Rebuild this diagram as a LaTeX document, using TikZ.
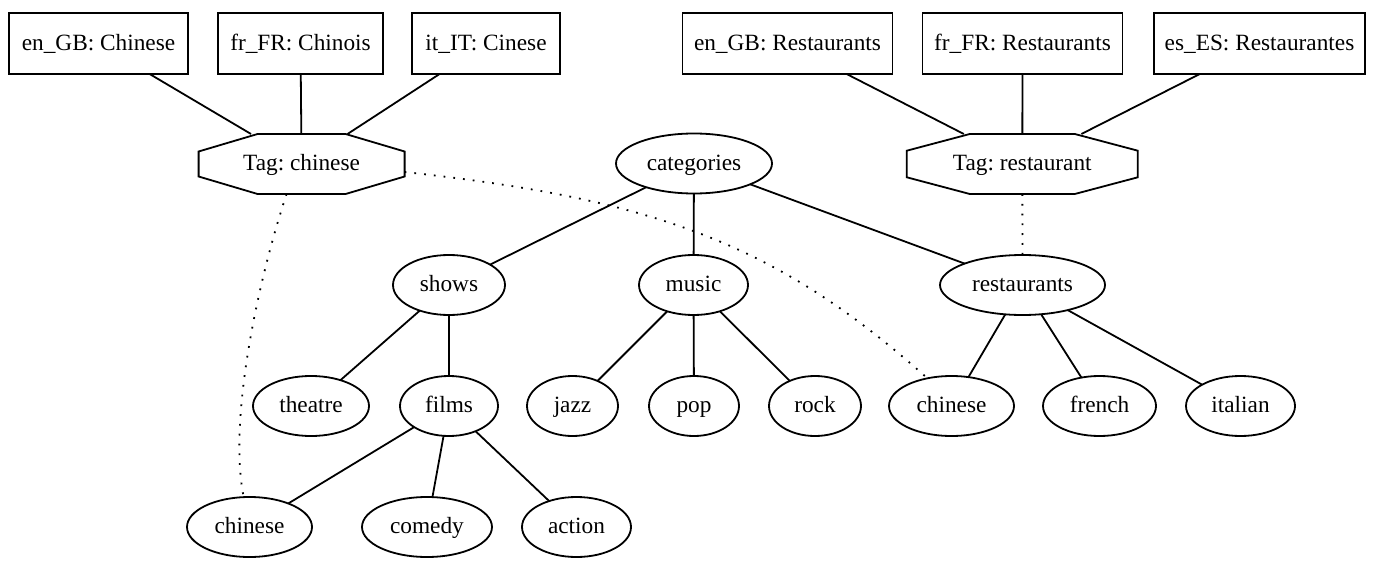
\documentclass[tikz,border=0pt]{standalone}
\usepackage{fontspec}
\setmainfont{Liberation Serif}
\usetikzlibrary{calc,shapes.geometric}
\frenchspacing
\begin{document}
\begin{tikzpicture}[x=1pt,y=-1pt,
  every node/.style={font=\fontsize{23.3}{28}\selectfont\frenchspacing, text height=17pt, text depth=3.6pt, inner sep=0pt, outer sep=0pt, line width=1.8pt},
  ell/.style={draw, ellipse, minimum height=60pt},
  lbox/.style={draw, rectangle, minimum height=60.7pt},
  tagnode/.style={rectangle, minimum height=60pt},
  edge/.style={line width=1.8pt},
  dots/.style={line width=1.8pt, dash pattern=on 1.8pt off 8pt}]
\useasboundingbox (0,0) rectangle (1386,580);

% label boxes
\node[lbox, minimum width=178.4pt] (b1) at (98.5,43.7) {en\_GB: Chinese};
\node[lbox, minimum width=165pt] (b2) at (300.5,43.7) {fr\_FR: Chinois};
\node[lbox, minimum width=148.3pt] (b3) at (486,43.7) {it\_IT: Cinese};
\node[lbox, minimum width=210pt] (b4) at (787.5,43.7) {en\_GB: Restaurants};
\node[lbox, minimum width=200pt] (b5) at (1022.5,43.7) {fr\_FR: Restaurants};
\node[lbox, minimum width=211pt] (b6) at (1259.5,43.7) {es\_ES: Restaurantes};

% tags (octagons)
\node[tagnode, minimum width=206pt] (tc) at (301.6,164) {Tag: chinese};
\node[tagnode, minimum width=231pt] (tr) at (1022.3,164) {Tag: restaurant};
\draw[edge] ($(tc.north west)+(59,0)$) -- ($(tc.north east)+(-59,0)$) -- ($(tc.east)+(0,-12.5)$) -- ($(tc.east)+(0,12.5)$) -- ($(tc.south east)+(-59,0)$) -- ($(tc.south west)+(59,0)$) -- ($(tc.west)+(0,12.5)$) -- ($(tc.west)+(0,-12.5)$) -- cycle;
\draw[edge] ($(tr.north west)+(63,0)$) -- ($(tr.north east)+(-63,0)$) -- ($(tr.east)+(0,-13.3)$) -- ($(tr.east)+(0,13.3)$) -- ($(tr.south east)+(-63,0)$) -- ($(tr.south west)+(63,0)$) -- ($(tr.west)+(0,13.3)$) -- ($(tr.west)+(0,-13.3)$) -- cycle;

% tree nodes
\node[ell, minimum width=156pt] (cat) at (694,163.5) {categories};
\node[ell, minimum width=112pt] (shows) at (449,285) {shows};
\node[ell, minimum width=109pt] (music) at (693.5,285) {music};
\node[ell, minimum width=165pt] (rest) at (1022.5,285) {restaurants};
\node[ell, minimum width=116pt] (theatre) at (311,406) {theatre};
\node[ell, minimum width=98pt] (films) at (449,406) {films};
\node[ell, minimum width=91pt] (jazz) at (572.5,406) {jazz};
\node[ell, minimum width=90pt] (pop) at (694,406) {pop};
\node[ell, minimum width=92pt] (rock) at (815,406) {rock};
\node[ell, minimum width=125pt] (chr) at (951.5,406) {chinese};
\node[ell, minimum width=113pt] (french) at (1099.5,406) {french};
\node[ell, minimum width=109pt] (italian) at (1240.5,406) {italian};
\node[ell, minimum width=125pt] (chf) at (249.5,527) {chinese};
\node[ell, minimum width=130pt] (comedy) at (427,527) {comedy};
\node[ell, minimum width=109pt] (action) at (576.5,527) {action};

% solid edges
\draw[edge] (b1) -- (tc);
\draw[edge] (b2) -- (tc);
\draw[edge] (b3) -- (tc);
\draw[edge] (b4) -- (tr);
\draw[edge] (b5) -- (tr);
\draw[edge] (b6) -- (tr);
\draw[edge] (cat) -- (shows);
\draw[edge] (cat) -- (music);
\draw[edge] (cat) -- (rest);
\draw[edge] (shows) -- (theatre);
\draw[edge] (shows) -- (films);
\draw[edge] (films) -- (chf);
\draw[edge] (films) -- (comedy);
\draw[edge] (films) -- (action);
\draw[edge] (music) -- (jazz);
\draw[edge] (music) -- (pop);
\draw[edge] (music) -- (rock);
\draw[edge] (rest) -- (chr);
\draw[edge] (rest) -- (french);
\draw[edge] (rest) -- (italian);

% dotted edges
\draw[dots] ($(tc.south)+(-15,0)$) .. controls (258,280) and (228,420) .. (chf.101);
\draw[dots] ($(tc.east)+(0,8)$) .. controls (652,199) and (775,242) .. (chr.131);
\draw[dots] (tr) -- (rest);
\end{tikzpicture}
\end{document}
